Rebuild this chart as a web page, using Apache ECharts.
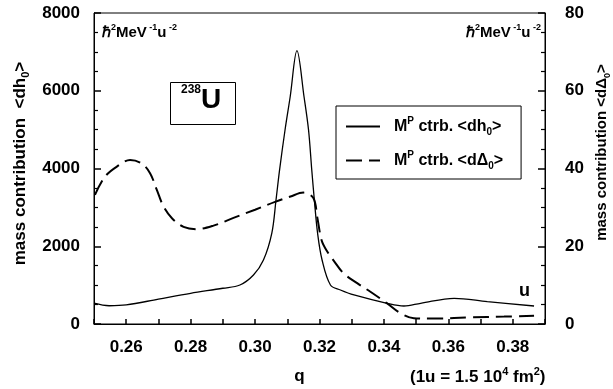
<!DOCTYPE html>
<html>
<head>
<meta charset="utf-8">
<script src="https://cdn.jsdelivr.net/npm/echarts@6/dist/echarts.min.js"></script>
<style>
  html, body { margin: 0; padding: 0; background: #fff; }
  #chart { width: 613px; height: 389px; }
</style>
</head>
<body>
<div id="chart"></div>
<script>
// q values and <dh0> (left axis)
var dhQ = [0.25, 0.2547, 0.26, 0.27, 0.28, 0.29, 0.2953, 0.2995, 0.3026, 0.3052, 0.3065, 0.3076, 0.3093, 0.3109, 0.3130,
  0.3152, 0.3166, 0.3176, 0.3184, 0.3194, 0.3208, 0.3234, 0.3265, 0.3307, 0.3410, 0.3462, 0.3514, 0.3618, 0.3721, 0.3866];
var dhVal = [535, 470, 490, 640, 790, 920, 1003, 1260, 1646, 2340, 3190, 3960, 4990, 5846, 7030,
  5846, 4990, 3960, 3190, 2340, 1646, 1003, 875, 746, 532, 463, 532, 661, 575, 463];

// q values and <dDelta0> (right axis)
var ddQ = [0.2503, 0.2534, 0.2571, 0.2612, 0.2648, 0.2674, 0.2695, 0.2716, 0.2742, 0.2778, 0.2819, 0.2871, 0.2933, 0.3000,
  0.3062, 0.3110, 0.3150, 0.3181, 0.3193, 0.3207, 0.3225, 0.3244, 0.3275, 0.3317, 0.3358, 0.3410, 0.3452, 0.3493, 0.3566,
  0.3670, 0.3773, 0.3866];
var ddVal = [33.2, 37.9, 40.5, 42.2, 41.3, 38.8, 34.5, 30.2, 27.2, 25.0, 24.4, 25.3, 27.3, 29.4,
  31.4, 32.8, 33.8, 32.4, 27.5, 21.4, 18.5, 16.3, 13.0, 10.5, 8.3, 5.3, 2.75, 1.5, 1.4,
  1.7, 1.9, 2.15];

var FONT = "'Liberation Sans', Arial, sans-serif";

function pairs (xs, ys) {
  return xs.map(function (x, i) { return [x, ys[i]]; });
}

// rich text pieces: m = normal, s = superscript, d = subscript
function richSet (size) {
  var small = Math.round(size * 0.62);
  return {
    m: { fontFamily: FONT, fontWeight: 'bold', fontSize: size, lineHeight: size + 5, color: '#000' },
    p: { fontFamily: FONT, fontWeight: 'bold', fontSize: size, lineHeight: size + 5, color: '#000', padding: [0, 0, 0, 9] },
    s: { fontFamily: FONT, fontWeight: 'bold', fontSize: small, lineHeight: small + 1, color: '#000', verticalAlign: 'top' },
    d: { fontFamily: FONT, fontWeight: 'bold', fontSize: small, lineHeight: small + 1, color: '#000', verticalAlign: 'bottom' },
  };
}

var tickFont = { fontFamily: FONT, fontWeight: 'bold', fontSize: 17, color: '#000' };

var myChart = echarts.init(document.getElementById('chart'));

var option = {
  animation: false,
  backgroundColor: '#fff',
  grid: {
    left: 94, top: 13, right: 68, bottom: 65,
    outerBoundsMode: 'none',
    show: true, borderColor: '#000', borderWidth: 1,
  },
  legend: {
    orient: 'vertical',
    left: 336, top: 106,
    padding: [10, 18, 8, 9],
    itemGap: 13,
    itemWidth: 34, itemHeight: 14,
    borderColor: '#000', borderWidth: 1,
    itemStyle: { opacity: 0 },
    data: ['dh', 'dd'],
    formatter: function (name) {
      return name === 'dh'
        ? '{p|M}{s|P}{m| ctrb. <dh}{d|0}{m|>}'
        : '{p|M}{s|P}{m| ctrb. <d\u0394}{d|0}{m|>}';
    },
    textStyle: { rich: richSet(16) },
  },
  xAxis: {
    type: 'value',
    min: 0.25, max: 0.39, interval: 0.01,
    name: 'q',
    nameLocation: 'middle', nameGap: 44,
    nameTextStyle: { fontFamily: FONT, fontWeight: 'bold', fontSize: 17, color: '#000', padding: [0, 40, 0, 0] },
    axisLine: { show: true, lineStyle: { color: '#000', width: 1 } },
    axisTick: { show: true, inside: true, length: 5, lineStyle: { color: '#000', width: 1.5 } },
    splitLine: { show: false },
    axisLabel: Object.assign({
      margin: 15,
      formatter: function (v) {
        return Math.round(v * 100) % 2 === 0 ? v.toFixed(2) : '';
      },
    }, tickFont),
  },
  yAxis: [
    {
      type: 'value', min: 0, max: 8000, interval: 2000,
      name: '{m|mass contribution  <dh}{d|0}{m|>}',
      nameLocation: 'middle', nameGap: 62, nameRotate: 90,
      nameTextStyle: { rich: richSet(17), padding: [0, 0, 0, 10] },
      axisLine: { show: true, lineStyle: { color: '#000' } },
      axisTick: { show: true, inside: true, length: 7, lineStyle: { color: '#000', width: 1.5 } },
      minorTick: { show: true, splitNumber: 4, length: 4, lineStyle: { color: '#000', width: 1.2 } },
      splitLine: { show: false },
      axisLabel: Object.assign({
        margin: 14,
        formatter: function (v) { return String(v); },
      }, tickFont),
    },
    {
      type: 'value', min: 0, max: 80, interval: 20,
      position: 'right',
      name: '{m|mass contribution <d\u0394}{d|0}{m|>}',
      nameLocation: 'middle', nameGap: 46, nameRotate: 90,
      nameTextStyle: { rich: richSet(15), padding: [0, 0, 0, 32] },
      axisLine: { show: true, lineStyle: { color: '#000' } },
      axisTick: { show: true, inside: true, length: 7, lineStyle: { color: '#000', width: 1.5 } },
      minorTick: { show: true, splitNumber: 4, length: 4, lineStyle: { color: '#000', width: 1.2 } },
      splitLine: { show: false },
      axisLabel: Object.assign({ margin: 20 }, tickFont),
    },
  ],
  graphic: [
    {
      type: 'text', left: 102, top: 23,
      style: { text: '{m|\u210F}{s|2}{m|MeV}{s| -1}{m|u}{s| -2}', rich: richSet(15) },
    },
    {
      type: 'text', right: 72, top: 23,
      style: { text: '{m|\u210F}{s|2}{m|MeV}{s| -1}{m|u}{s| -2}', rich: richSet(15) },
    },
    {
      type: 'rect', left: 168, top: 80,
      shape: { width: 65, height: 42 },
      style: { fill: 'none', stroke: '#000', lineWidth: 1 },
    },
    {
      type: 'text', left: 181, top: 84,
      style: {
        text: '{s|238}{big|U}',
        rich: {
          s: { fontFamily: FONT, fontWeight: 'bold', fontSize: 12, lineHeight: 12, verticalAlign: 'top', color: '#000' },
          big: { fontFamily: FONT, fontWeight: 'bold', fontSize: 28, lineHeight: 32, color: '#000' },
        },
      },
    },
    {
      type: 'text', left: 519, top: 282,
      style: { text: 'u', font: 'bold 18px ' + FONT, fill: '#000' },
    },
    {
      type: 'text', left: 410, top: 366,
      style: { text: '{m|(1u = 1.5 10}{s|4}{m| fm}{s|2}{m|)}', rich: richSet(17) },
    },
  ],
  series: [
    {
      name: 'dh',
      type: 'line',
      yAxisIndex: 0,
      data: pairs(dhQ, dhVal),
      smooth: 0.35,
      symbol: 'none',
      lineStyle: { color: '#000', width: 1.3, type: 'solid' },
      itemStyle: { color: '#000' },
    },
    {
      name: 'dd',
      type: 'line',
      yAxisIndex: 1,
      data: pairs(ddQ, ddVal),
      smooth: 0.35,
      symbol: 'none',
      lineStyle: { color: '#000', width: 2, type: [16, 7] },
      itemStyle: { color: '#000' },
    },
  ],
};

myChart.setOption(option);
</script>
</body>
</html>
